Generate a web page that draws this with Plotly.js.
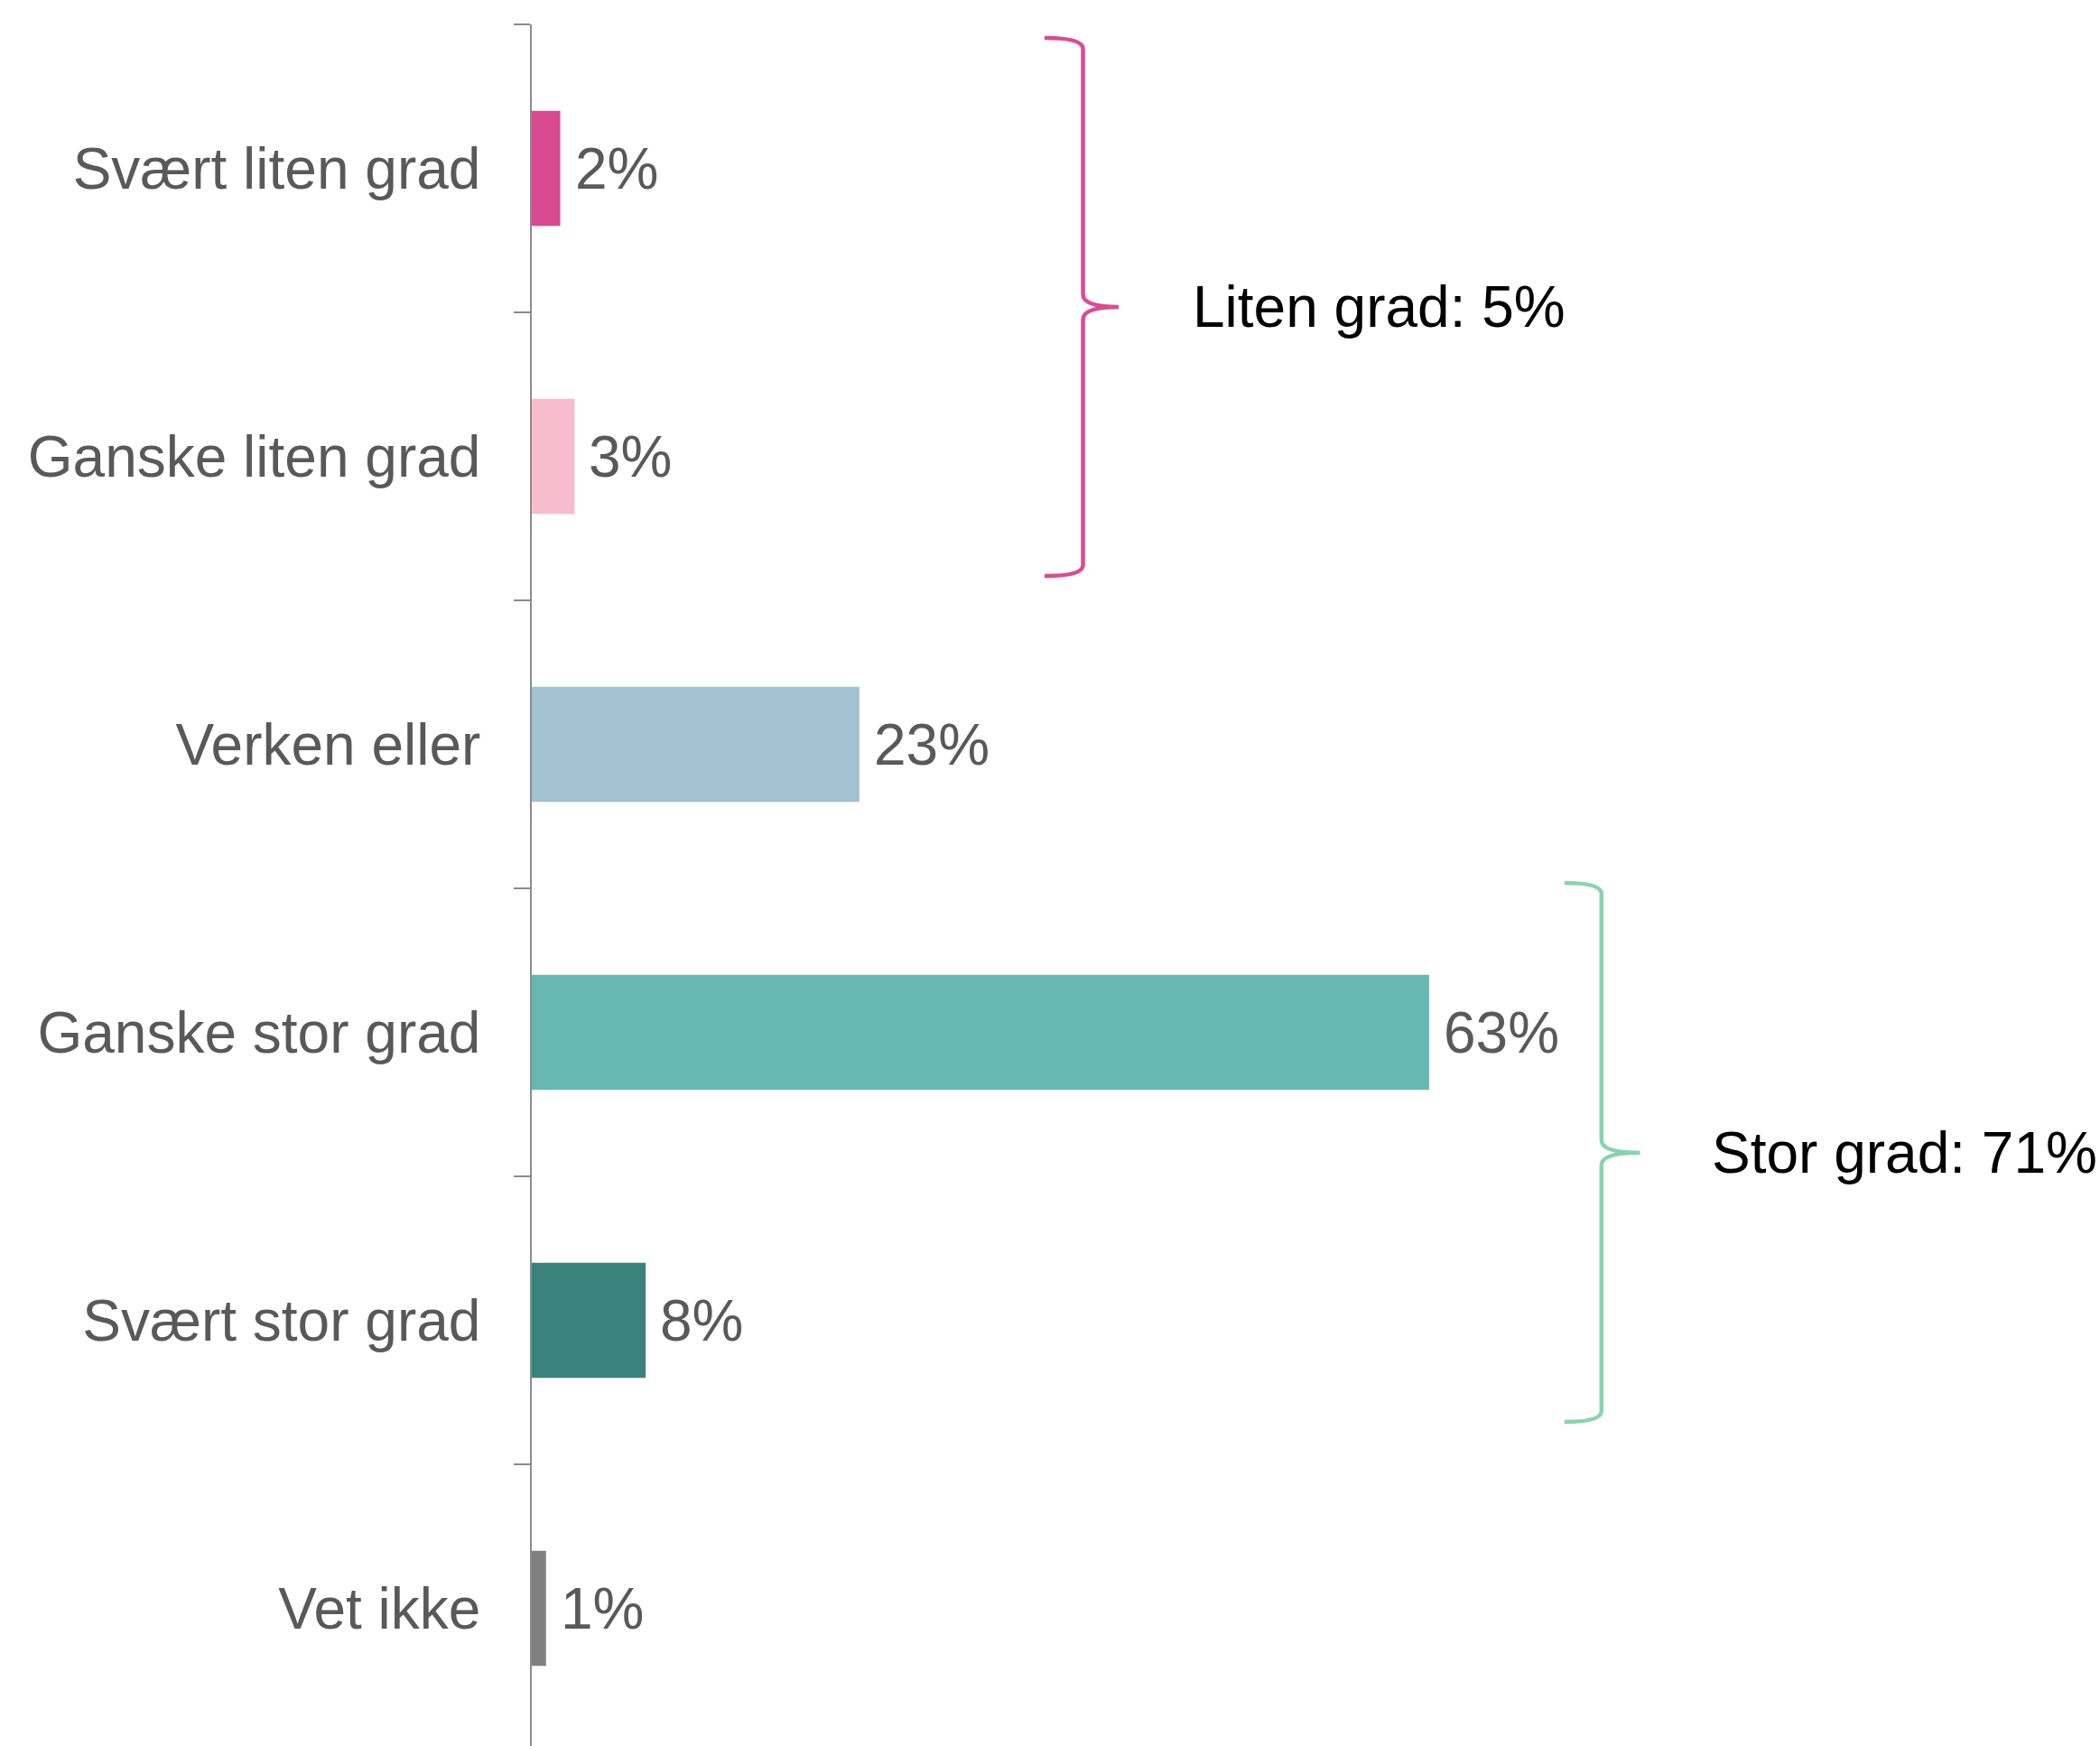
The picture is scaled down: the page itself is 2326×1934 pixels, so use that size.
<!DOCTYPE html>
<html>
<head>
<meta charset="utf-8">
<script src="https://cdn.plot.ly/plotly-3.0.1.min.js"></script>
<style>
  html, body { margin: 0; padding: 0; background: #ffffff; }
  #chart { width: 2326px; height: 1934px; }
</style>
</head>
<body>
<div id="chart"></div>
<script>
// ---- Data ----
const categories = ["Svært liten grad", "Ganske liten grad", "Verken eller", "Ganske stor grad", "Svært stor grad", "Vet ikke"];
const values = [2, 3, 23, 63, 8, 1];
const valueLabels = ["2%", "3%", "23%", "63%", "8%", "1%"];
const barColors = ["#D94A93", "#F7BCCE", "#A3C2D1", "#67B8B2", "#3A837C", "#808080"];
const groupLabels = ["Liten grad: 5%", "Stor grad: 71%"];
const groupColors = ["#DC4A95", "#88D4AE"];

// ---- Layout helpers ----
const yRange = [5.478, -0.5];
const ySpan = yRange[0] - yRange[1];
function py(c) { return (yRange[0] - c) / ySpan; } // category position -> paper y

// brace geometry: [leftEnd, vertical, tip] in x data units; [top, mid, bottom] in category positions
const braces = [
  { x: [36.0, 38.7, 41.2], y: [-0.453, 0.481, 1.415], labelX: 46.3 },
  { x: [72.5, 75.1, 77.8], y: [2.481, 3.418, 4.353], labelX: 82.7 }
];

function bracePath(b) {
  const [L, V, T] = b.x;
  const top = py(b.y[0]), mid = py(b.y[1]), bot = py(b.y[2]);
  const d = 12 / 1907;
  const m = 14 / 1907;
  return `M ${L},${top} Q ${V},${top} ${V},${top - d} L ${V},${mid + m} Q ${V},${mid} ${T},${mid} ` +
         `Q ${V},${mid} ${V},${mid - m} L ${V},${bot + d} Q ${V},${bot} ${L},${bot}`;
}

const shapes = braces.map((b, i) => ({
  type: "path", xref: "x", yref: "paper",
  path: bracePath(b),
  line: { color: groupColors[i], width: 4.5 }
}));

const annotations = [];
categories.forEach((c, i) => {
  annotations.push({
    x: values[i], y: c, xref: "x", yref: "y",
    text: valueLabels[i], showarrow: false,
    xanchor: "left", yanchor: "middle", xshift: 14,
    font: { family: "Liberation Sans, Arial, sans-serif", size: 64, color: "#595959" }
  });
});
braces.forEach((b, i) => {
  annotations.push({
    x: b.labelX, y: py(b.y[1]), xref: "x", yref: "paper",
    text: groupLabels[i], showarrow: false,
    xanchor: "left", yanchor: "middle",
    font: { family: "Liberation Sans, Arial, sans-serif", size: 64, color: "#000000" }
  });
});

const trace = {
  type: "bar", orientation: "h",
  x: values, y: categories,
  marker: { color: barColors, line: { width: 0 } },
  hoverinfo: "skip"
};

const layout = {
  width: 2326, height: 1934,
  margin: { l: 589, r: 0, t: 27, b: 0, pad: 0 },
  paper_bgcolor: "#ffffff", plot_bgcolor: "#ffffff",
  showlegend: false,
  bargap: 0.6,
  font: { family: "Liberation Sans, Arial, sans-serif", size: 64, color: "#595959" },
  xaxis: { range: [0, 110.1], visible: false, fixedrange: true },
  yaxis: {
    type: "category", range: yRange, autorange: false,
    showline: true, linecolor: "#8C8C8C", linewidth: 1.8,
    ticks: "outside", ticklen: 18, tickcolor: "#8C8C8C", tickwidth: 1.8,
    tickson: "boundaries", showgrid: false, zeroline: false,
    ticklabelstandoff: 42,
    tickfont: { family: "Liberation Sans, Arial, sans-serif", size: 64, color: "#595959" }
  },
  shapes: shapes,
  annotations: annotations
};

Plotly.newPlot("chart", [trace], layout, { displayModeBar: false, staticPlot: true });
</script>
</body>
</html>
